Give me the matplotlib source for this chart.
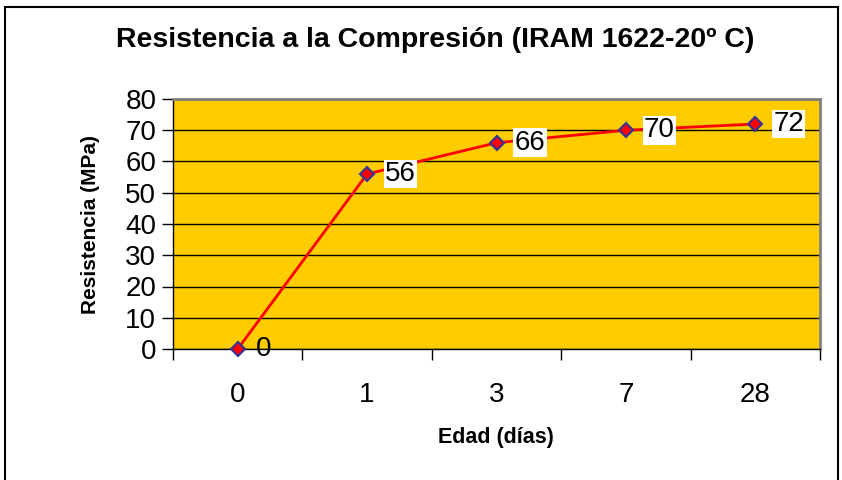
import matplotlib.pyplot as plt
import numpy as np
from matplotlib.patches import Rectangle

plt.rcParams['font.family'] = ['Liberation Sans', 'DejaVu Sans']

edades = ['0', '1', '3', '7', '28']
resistencia = [0, 56, 66, 70, 72]

fig = plt.figure(figsize=(8.42, 4.8), dpi=100)
ax = fig.add_axes([173 / 842, 1 - 349 / 480, 647 / 842, 250 / 480])

# outer chart border
fig.patches.append(Rectangle((5 / 842, -0.05), 833 / 842, 1.05 - 7 / 480,
                             transform=fig.transFigure, fill=False,
                             edgecolor='black', lw=1.5))

x = np.arange(len(edades))
ax.set_facecolor('#FFCC00')
ax.plot(x, resistencia, color='red', lw=2, marker='D', ms=7,
        markerfacecolor='red', markeredgecolor='#333399', markeredgewidth=1.5,
        zorder=3, clip_on=False)

for xi, v in zip(x, resistencia):
    box = dict(facecolor='white', edgecolor='none', pad=1) if v > 0 else None
    ax.annotate(str(v), (xi, v), xytext=(13, 0), textcoords='offset points',
                ha='left', va='center', fontsize=20, bbox=box, zorder=4,
                annotation_clip=False)

ax.set_xlim(-0.5, len(edades) - 0.5)
ax.set_ylim(0, 80)
ax.set_yticks(range(0, 81, 10))
ax.set_xticks(x)
ax.set_xticklabels(edades)
ax.set_xticks(np.arange(-0.5, len(edades), 1), minor=True)
ax.tick_params(axis='x', which='major', length=0, labelsize=20, pad=24)
ax.tick_params(axis='x', which='minor', length=8, width=1, direction='out')
ax.tick_params(axis='y', length=8, width=1, labelsize=20, pad=4)
ax.yaxis.grid(True, color='black', lw=1)
ax.set_axisbelow(True)

for side in ['top', 'right']:
    ax.spines[side].set_color('#808080')
    ax.spines[side].set_linewidth(2)
for side in ['left', 'bottom']:
    ax.spines[side].set_color('black')
    ax.spines[side].set_linewidth(1)

fig.text(0.517, 0.917, 'Resistencia a la Compresión (IRAM 1622-20º C)',
         ha='center', va='center', fontsize=20.5, fontweight='bold')
fig.text(0.107, 1 - 224 / 480, 'Resistencia (MPa)', rotation=90,
         ha='center', va='center', fontsize=15, fontweight='bold')
fig.text(496 / 842, 1 - 437 / 480, 'Edad (días)',
         ha='center', va='center', fontsize=15.5, fontweight='bold')

fig.savefig('out.png', dpi=100)
